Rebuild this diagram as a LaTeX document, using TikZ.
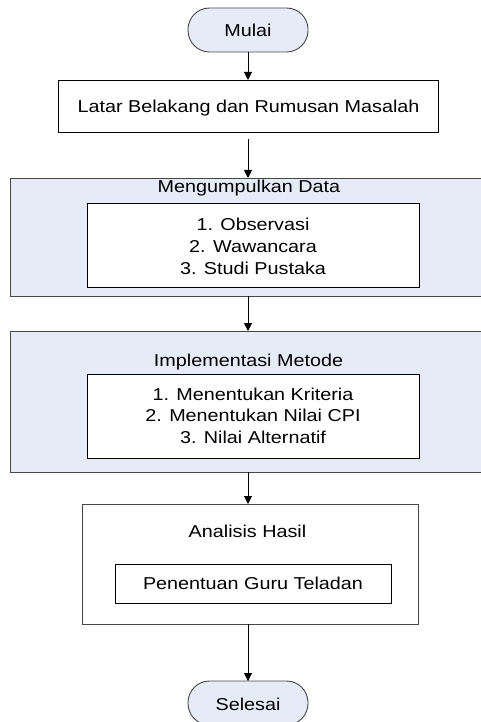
\documentclass[tikz,border=0pt]{standalone}
\usepackage{fontspec}
\setmainfont{Liberation Sans}[FakeStretch=1.15]
\usetikzlibrary{arrows.meta}
\definecolor{paleblue}{RGB}{230,236,247}
\definecolor{framegray}{RGB}{70,70,70}
\begin{document}
\begin{tikzpicture}[x=1pt,y=-1pt,
  shapebox/.style={inner sep=0pt,outer sep=0pt,line width=0.9pt},
  terminal/.style={shapebox,draw=framegray,fill=paleblue,rounded corners=21.5pt,minimum width=120pt,minimum height=44pt},
  plainbox/.style={shapebox,draw=black,fill=white},
  groupbox/.style={shapebox,draw=framegray,fill=paleblue},
  outerbox/.style={shapebox,draw=framegray,fill=white},
  lbl/.style={anchor=base,inner sep=0pt,font=\fontsize{17.2}{21.7}\selectfont},
  arr/.style={line width=1pt,-{Triangle[length=8pt,width=8pt]}}]
\useasboundingbox (0,0) rectangle (481,722);
\clip (0,0) rectangle (481,722);
% shapes
\node[terminal] (mulai) at (248,30) {};
\node[plainbox,minimum width=380pt,minimum height=52pt] (latar) at (248,106) {};
\node[groupbox,minimum width=482pt,minimum height=118pt] (kumpul) at (251,237) {};
\node[plainbox,minimum width=332pt,minimum height=84pt] (kumpulin) at (253,245) {};
\node[groupbox,minimum width=482pt,minimum height=141pt] (impl) at (251,401.5) {};
\node[plainbox,minimum width=332pt,minimum height=84pt] (implin) at (253,416) {};
\node[outerbox,minimum width=336pt,minimum height=120pt] (anal) at (250,564) {};
\node[plainbox,minimum width=276pt,minimum height=39pt] (analin) at (253,583.5) {};
\node[terminal] (selesai) at (248,703) {};
% texts
\node[lbl] (tmulai) at (248,36.7) {Mulai};
\node[lbl] (tlatar) at (248.5,112.3) {Latar Belakang dan Rumusan Masalah};
\node[lbl] (tkumpul) at (249,192.5) {Mengumpulkan Data};
\node[lbl] (k1) at (253,230.7) {1. Observasi};
\node[lbl] (k2) at (253,252.3) {2. Wawancara};
\node[lbl] (k3) at (253,274) {3. Studi Pustaka};
\node[lbl] (timpl) at (248.5,366.7) {Implementasi Metode};
\node[lbl] (i1) at (253,400.7) {1. Menentukan Kriteria};
\node[lbl] (i2) at (253,421.7) {2. Menentukan Nilai CPI};
\node[lbl] (i3) at (253,443.3) {3. Nilai Alternatif};
\node[lbl] (tanal) at (247.5,537.3) {Analisis Hasil};
\node[lbl] (tguru) at (253,589) {Penentuan Guru Teladan};
\node[lbl] (tselesai) at (248,710.7) {Selesai};
% connectors
\coordinate (gap) at ([yshift=-7pt]latar.south);
\draw[arr] (mulai.south) -- (latar.north);
\draw[arr] (gap) -- (gap |- kumpul.north);
\draw[arr] (gap |- kumpul.south) -- (gap |- impl.north);
\draw[arr] (gap |- impl.south) -- (gap |- anal.north);
\draw[arr] (gap |- anal.south) -- (selesai.north);
\end{tikzpicture}
\end{document}
